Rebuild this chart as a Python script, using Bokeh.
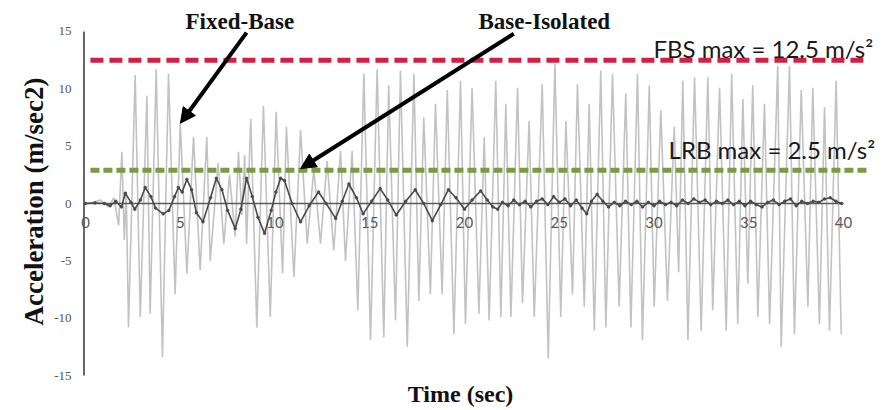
import math
from bokeh.plotting import figure
from bokeh.models import Range1d, Arrow, NormalHead
from bokeh.core.properties import value
from bokeh.embed import file_html
from bokeh.resources import INLINE

# ---------------- data ----------------
fb_time = [0.0, 0.4, 0.8, 1.2, 1.5, 1.75, 1.92, 2.05, 2.15, 2.27, 2.62, 2.89, 3.24, 3.41, 3.73, 4.06,
           4.38, 4.73, 5.0, 5.35, 5.7, 6.05, 6.4, 6.58, 7.0, 7.3, 7.6, 7.9, 8.07, 8.25, 8.4, 8.5,
           8.72, 9.04, 9.39, 9.75, 10.06, 10.4, 10.6, 11.0, 11.35, 11.7, 12.05, 12.4, 12.75, 13.1,
           13.46, 13.72, 14.07, 14.37, 14.69, 15.04, 15.39, 15.74, 16.0, 16.36, 16.62, 16.98, 17.33,
           17.59, 17.85, 18.2, 18.47, 18.82, 19.09, 19.44, 19.79, 20.05, 20.4, 20.76, 21.04, 21.3,
           21.65, 21.92, 22.18, 22.45, 22.8, 23.06, 23.41, 23.68, 24.1, 24.42, 24.77, 25.08, 25.35,
           25.7, 25.96, 26.32, 26.58, 26.85, 27.19, 27.46, 27.81, 28.16, 28.51, 28.78, 29.13, 29.39,
           29.75, 30.01, 30.36, 30.71, 31.07, 31.3, 31.52, 31.79, 32.14, 32.49, 32.84, 33.1, 33.46,
           33.81, 34.1, 34.42, 34.69, 34.95, 35.21, 35.48, 35.83, 36.1, 36.53, 36.71, 37.15, 37.41,
           37.77, 38.12, 38.38, 38.73, 39.0, 39.26, 39.61, 39.88]
fb_accel = [0.0, 0.1, 0.3, -0.3, 0.5, -1.9, 4.5, -3.2, 1.0, -10.8, 11.2, -9.9, 9.4, -9.6, 11.7, -13.4,
            11.3, -7.9, 7.0, -6.1, 5.8, -5.8, 5.8, -5.0, 3.5, -3.5, 2.5, -2.9, 4.5, -1.0, 4.2, -3.5,
            7.4, -10.8, 8.5, -9.9, 8.0, -6.1, 6.7, -6.4, 6.4, -3.5, 3.0, -3.5, 3.7, -4.1,
            4.6, -5.0, 4.6, -9.3, 11.3, -11.9, 11.7, -11.7, 10.3, -10.2, 11.6, -12.5, 11.3,
            -8.5, 7.5, -7.9, 8.7, -7.9, 9.9, -11.4, 10.7, -10.5, 10.1, -9.6, 5.8, -10.2,
            10.7, -9.9, 8.7, -9.9, 10.1, -8.7, 7.2, -9.9, 10.4, -13.5, 12.2, -9.9, 7.2,
            -7.9, 10.4, -9.0, 8.7, -11.1, 11.6, -10.8, 11.3, -9.0, 9.6, -10.8, 11.3, -11.9,
            10.3, -9.0, 8.1, -8.5, 6.7, -6.0, 10.7, -11.9, 11.0, -11.1, 11.0, -9.3, 10.1,
            -11.1, 11.3, -10.5, 9.1, -7.0, 10.3, -9.9, 8.7, -10.5, 12.0, -12.5, 12.0, -11.4,
            9.9, -9.0, 10.1, -10.5, 8.4, -11.1, 10.7, -11.4]

bi_time = [0.0, 0.5, 1.0, 1.3, 1.6, 1.9, 2.1, 2.4, 2.6, 2.9, 3.15, 3.45, 3.7, 4.1, 4.4, 4.7, 4.9, 5.1,
           5.35, 5.6, 5.85, 6.2, 6.6, 6.9, 7.2, 7.5, 7.9, 8.2, 8.5, 8.8, 9.1, 9.45, 9.8, 10.05, 10.3,
           10.5, 10.9, 11.35, 11.8, 12.3, 12.7, 13.2, 13.55, 13.9, 14.3, 14.65, 15.1, 15.55, 15.95,
           16.4, 16.9, 17.4, 17.85, 18.3, 18.75, 19.15, 19.55, 20.0, 20.4, 20.85, 21.2, 21.5, 21.75,
           22.0, 22.3, 22.6, 22.9, 23.2, 23.5, 23.8, 24.1, 24.4, 24.7, 25.0, 25.3, 25.6, 25.9, 26.2,
           26.45, 26.7, 27.0, 27.3, 27.6, 27.9, 28.2, 28.5, 28.8, 29.1, 29.4, 29.7, 30.0, 30.3, 30.6,
           30.9, 31.2, 31.5, 31.8, 32.1, 32.4, 32.7, 33.0, 33.3, 33.6, 33.9, 34.2, 34.5, 34.8, 35.1,
           35.4, 35.7, 36.0, 36.3, 36.6, 36.9, 37.2, 37.5, 37.8, 38.1, 38.4, 38.7, 39.0, 39.3, 39.6, 39.9]
bi_accel = [0.0, 0.05, 0.0, -0.2, 0.2, -0.3, 0.9, 0.1, -0.5, 0.3, 1.4, 0.6, -0.4, -0.9, -0.6, 0.6, 1.4, 1.0,
            2.1, 1.2, -0.8, -1.6, 0.5, 2.2, 1.2, -0.6, -2.2, -0.5, 2.2, 0.6, -1.2, -2.6, -0.6, 1.0, 2.2,
            2.0, 0.0, -1.6, -0.2, 1.0, 0.0, -1.3, 0.2, 1.7, 0.5, -0.9, 0.2, 1.3, 0.3,
            -1.0, 0.2, 1.2, 0.0, -1.5, -0.1, 1.2, 0.5, -0.5, 0.3, 1.1, 0.3, -0.3, -0.5,
            0.1, -0.2, 0.3, -0.1, 0.2, -0.3, 0.2, 0.4, -0.1, 0.6, 0.1, 0.4, -0.2, 0.3, -0.4,
            -0.9, 0.2, 0.8, 0.2, -0.3, 0.1, -0.2, 0.2, -0.1, 0.2, -0.3, 0.1, -0.2, 0.2, -0.1,
            0.1, -0.2, 0.3, 0.0, 0.4, 0.1, 0.3, -0.1, 0.2, 0.0, 0.3, -0.1, 0.2, -0.2, 0.2,
            -0.1, -0.3, 0.1, 0.3, -0.1, 0.2, 0.4, -0.2, 0.2, 0.0, 0.2, 0.1, 0.4, 0.5, 0.2, 0.0]

x_tick_values = [0, 5, 10, 15, 20, 25, 30, 35, 40]
x_tick_labels = ["0", "5", "10", "15", "20", "25", "30", "35", "40"]
y_tick_values = [-15, -10, -5, 0, 5, 10, 15]
y_tick_labels = ["-15", "-10", "-5", "0", "5", "10", "15"]

ref_values = [12.5, 2.9]
ref_labels = ["FBS max = 12.5 m/s\u00b2", "LRB max = 2.5 m/s\u00b2"]

# ---------------- figure ----------------
PX_X = 18.95   # px per second
PX_Y = 11.47   # px per unit
p = figure(width=888, height=410, output_backend="svg", toolbar_location=None,
           x_axis_location=None, y_axis_location=None,
           x_range=Range1d(-85 / PX_X, (888 - 85) / PX_X),
           y_range=Range1d(-207 / PX_Y, 203 / PX_Y),
           min_border_left=0, min_border_right=0, min_border_top=0, min_border_bottom=0)
p.outline_line_color = None
p.grid.visible = False
p.background_fill_color = "white"
p.border_fill_color = "white"

# y axis line, tick labels and title
p.segment(x0=[-0.08], y0=[y_tick_values[0]], x1=[-0.08], y1=[y_tick_values[-1]],
          line_color="#666666", line_width=2)
p.text(x=[0] * len(y_tick_values), y=y_tick_values, text=y_tick_labels,
       text_align="right", text_baseline="middle", x_offset=-14,
       text_font=value("Liberation Serif"), text_font_size="13px", text_color="#555555")
p.text(x=[0], y=[0], text=["Acceleration (m/sec2)"], angle=math.pi / 2,
       text_align="center", text_baseline="middle", x_offset=-52, y_offset=-2,
       text_font=value("Liberation Serif"), text_font_style="bold",
       text_font_size="27px", text_color="#111111")

# fixed-base series
p.line(fb_time, fb_accel, line_color="#c2c2c2", line_width=1.6)

# zero line
p.segment(x0=[x_tick_values[0]], y0=[0], x1=[x_tick_values[-1]], y1=[0],
          line_color="#5a5a5a", line_width=1.5)

# base-isolated series
p.line(bi_time, bi_accel, line_color="#4a4a4a", line_width=1.6)
p.scatter(bi_time, bi_accel, size=2.5, color="#4a4a4a")

# reference lines
p.segment(x0=[0.26], y0=[ref_values[0]], x1=[41.25], y1=[ref_values[0]],
          line_color="#d11f45", line_width=5, line_dash="13 6")
p.segment(x0=[0.26], y0=[ref_values[1]], x1=[41.25], y1=[ref_values[1]],
          line_color="#7a9a45", line_width=5, line_dash="9 4")

# x tick labels along zero line
p.text(x=x_tick_values, y=[0] * len(x_tick_values), text=x_tick_labels,
       text_align="center", text_baseline="middle", y_offset=19,
       text_font=value("Lato"), text_font_size="15px", text_color="#595959")

# reference labels
p.text(x=[29.97, 30.77], y=[ref_values[0], ref_values[1]], text=ref_labels,
       text_align="left", text_baseline="middle", y_offset=[-12, -21],
       text_font=value("Lato"), text_font_size="24px", text_color="#1a1a1a")

# annotations
p.text(x=[5.28, 20.74], y=[15.87, 15.87], text=["Fixed-Base", "Base-Isolated"],
       text_align="left", text_baseline="middle",
       text_font=value("Liberation Serif"), text_font_style="bold",
       text_font_size="23px", text_color="#111111")

p.text(x=[19.79], y=[-16.65], text=["Time (sec)"], text_align="center", text_baseline="middle",
       text_font=value("Liberation Serif"), text_font_style="bold",
       text_font_size="24px", text_color="#111111")

p.add_layout(Arrow(end=NormalHead(size=15, fill_color="black", line_color="black"),
                   x_start=8.5, y_start=14.9, x_end=5.01, y_end=7.0,
                   line_color="black", line_width=4))
p.add_layout(Arrow(end=NormalHead(size=15, fill_color="black", line_color="black"),
                   x_start=22.6, y_start=14.8, x_end=11.35, y_end=3.05,
                   line_color="black", line_width=4))

open("out.html", "w").write(file_html(p, INLINE))
